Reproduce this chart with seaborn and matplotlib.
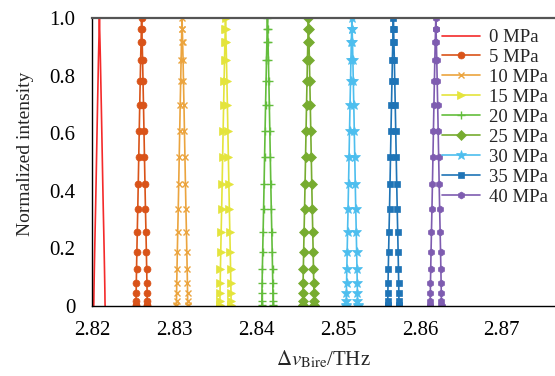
import matplotlib
matplotlib.use("Agg")
import numpy as np
import pandas as pd
import matplotlib.pyplot as plt
import seaborn as sns

# data
labels = ["0 MPa", "5 MPa", "10 MPa", "15 MPa", "20 MPa",
          "25 MPa", "30 MPa", "35 MPa", "40 MPa"]
centers = [2.82089, 2.82604, 2.83098, 2.83628, 2.84140,
           2.84640, 2.85171, 2.85677, 2.86195]
# one side of each peak, from the base up to the top
rise_intensity = [0.0, 0.004, 0.018, 0.044, 0.080, 0.128, 0.188, 0.258, 0.337,
                  0.424, 0.516, 0.607, 0.697, 0.781, 0.854, 0.916, 0.963, 1.0]
rise_offset = [0.00070, 0.00069, 0.00068, 0.00067, 0.00065, 0.00062, 0.00058,
               0.00053, 0.00047, 0.00041, 0.00035, 0.00029, 0.00023, 0.00017,
               0.00012, 0.00007, 0.00003, 0.0]
colors = ["#f42a2a", "#d95319", "#eba43e", "#e4e43c", "#63bd3c",
          "#77ac30", "#4dbeee", "#1f74b6", "#7e5cb0"]
markers = [None, "o", "x", ">", "+", "D", "*", "s", "h"]
msizes = [0, 5, 4.5, 5.5, 6, 5, 7, 5, 5]

xticks = [2.82, 2.83, 2.84, 2.85, 2.86, 2.87]
yticks = [0, 0.2, 0.4, 0.6, 0.8, 1.0]

sns.set_style("white")
plt.rcParams["font.family"] = ["Liberation Serif", "DejaVu Serif"]
plt.rcParams["mathtext.fontset"] = "stix"

fig = plt.figure(figsize=(5.55, 3.76), dpi=100)
ax = fig.add_axes([0.166, 0.186, 0.834, 0.766])

prof_y = rise_intensity + rise_intensity[-2::-1]
prof_dx = [-o for o in rise_offset] + rise_offset[-2::-1]

rows = []
for lab, c in zip(labels, centers):
    for dx, yy in zip(prof_dx, prof_y):
        rows.append({"series": lab, "x": c + dx, "y": yy})
df = pd.DataFrame(rows)

for lab, col, mk, ms in zip(labels, colors, markers, msizes):
    sub = df[df["series"] == lab]
    kw = dict(marker=mk, markersize=ms, markeredgewidth=1.0 if mk in ("x", "+") else 0.5,
              markeredgecolor=col) if mk else {}
    sns.lineplot(data=sub, x="x", y="y", ax=ax, color=col, linewidth=1.2,
                 estimator=None, sort=False, label=lab, **kw)

ax.set_xlim(2.82, 2.8765)
ax.set_ylim(0, 1.0)
ax.set_xticks(xticks)
ax.set_xticklabels([f"{t:.2f}" for t in xticks])
ax.set_yticks(yticks)
ax.set_yticklabels(["0" if t == 0 else f"{t:.1f}" for t in yticks])
ax.tick_params(direction="in", length=4, width=1, colors="black",
               labelsize=15)
ax.tick_params(axis="y", pad=12)
ax.tick_params(axis="x", pad=11)

ax.set_xlabel(r"$\Delta v_{\mathrm{Bire}}$/THz", fontsize=15, labelpad=6)
ax.set_ylabel("Normalized intensity", fontsize=14)
ax.yaxis.set_label_coords(-0.125, 0.53)

for s in ("left", "bottom"):
    ax.spines[s].set_color("black")
    ax.spines[s].set_linewidth(1.0)
ax.spines["top"].set_color("#555555")
ax.spines["top"].set_linewidth(1.6)
ax.spines["right"].set_visible(False)

ax.legend(loc="upper left", bbox_to_anchor=(0.797, 0.923),
          bbox_transform=fig.transFigure, frameon=False, fontsize=13.5,
          handlelength=2.0, handletextpad=0.5, labelspacing=0.15,
          borderpad=0, borderaxespad=0)

fig.savefig("out.png", dpi=100)
